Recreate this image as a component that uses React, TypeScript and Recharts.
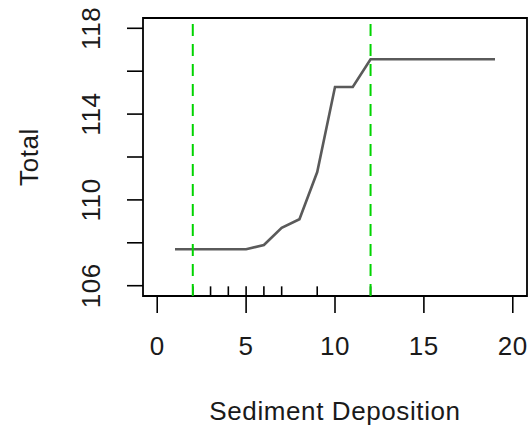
import React from 'react';
import { LineChart, Line, XAxis, YAxis, ReferenceLine, ReferenceArea } from 'recharts';

const sediment = [1, 2, 3, 4, 5, 6, 7, 8, 9, 10, 11, 12, 13, 14, 15, 16, 17, 18, 19];
const totals = [107.7, 107.7, 107.7, 107.7, 107.7, 107.9, 108.7, 109.1, 111.3, 115.26, 115.26, 116.56, 116.56, 116.56, 116.56, 116.56, 116.56, 116.56, 116.56];
const xTicks = [0, 5, 10, 15, 20];
const yTicks = [106, 108, 110, 112, 114, 116, 118];
const yLabelled = [106, 110, 114, 118];
const rugValues = [2, 3, 4, 5, 6, 7, 9, 12];
const cutoffs = [2, 12];

const X_DOMAIN: [number, number] = [-0.8, 20.8];
const Y_DOMAIN: [number, number] = [105.52, 118.48];
const RUG_TOP = 105.97;

const data = sediment.map((s, i) => ({ x: s, total: totals[i] }));

const FONT = '"Liberation Sans", Arial, sans-serif';
const TXT = '#1a1a1a';
const FS = 26;
const LS = 0.6;

const XTick = (props: any) => {
  const { x, y, payload } = props;
  return (
    <text x={x} y={y + 42} textAnchor="middle" fontFamily={FONT} fontSize={FS} letterSpacing={LS} fill={TXT}>
      {payload.value}
    </text>
  );
};

const YTick = (props: any) => {
  const { x, y, payload } = props;
  if (!yLabelled.includes(payload.value)) return null;
  const tx = x - 27;
  return (
    <text x={tx} y={y} transform={`rotate(-90 ${tx} ${y})`} textAnchor="middle" fontFamily={FONT} fontSize={FS} letterSpacing={LS} fill={TXT}>
      {payload.value}
    </text>
  );
};

export default function App() {
  return (
    <div style={{ position: 'absolute', left: 0, top: 0, background: '#fff' }}>
      <LineChart width={529} height={427} data={data} margin={{ top: 18, right: 2, bottom: 101, left: 83 }}>
        <XAxis
          dataKey="x"
          type="number"
          domain={X_DOMAIN}
          ticks={xTicks}
          allowDataOverflow
          axisLine={false}
          tickSize={17}
          tickMargin={0}
          tickLine={{ stroke: '#000', strokeWidth: 1.6 }}
          tick={<XTick />}
          height={30}
          label={{
            content: (p: any) => {
              const vb = p.viewBox;
              return (
                <text x={vb.x + vb.width / 2} y={vb.y + 124} textAnchor="middle" fontFamily={FONT} fontSize={FS} letterSpacing={LS} fill={TXT}>
                  Sediment Deposition
                </text>
              );
            },
          }}
        />
        <YAxis
          type="number"
          domain={Y_DOMAIN}
          ticks={yTicks}
          allowDataOverflow
          axisLine={false}
          tickSize={16}
          tickMargin={0}
          tickLine={{ stroke: '#000', strokeWidth: 1.6 }}
          tick={<YTick />}
          width={60}
          label={{
            content: (p: any) => {
              const vb = p.viewBox;
              const cx = 38;
              const cy = vb.y + vb.height / 2;
              return (
                <text x={cx} y={cy} transform={`rotate(-90 ${cx} ${cy})`} textAnchor="middle" fontFamily={FONT} fontSize={FS} letterSpacing={LS} fill={TXT}>
                  Total
                </text>
              );
            },
          }}
        />
        <ReferenceArea x1={X_DOMAIN[0]} x2={X_DOMAIN[1]} y1={Y_DOMAIN[0]} y2={Y_DOMAIN[1]} fill="none" stroke="#000" strokeWidth={1.8} ifOverflow="visible" />
        {rugValues.map((r) => (
          <ReferenceLine
            key={'rug' + r}
            segment={[{ x: r, y: Y_DOMAIN[0] }, { x: r, y: RUG_TOP }]}
            stroke="#000"
            strokeWidth={1.6}
          />
        ))}
        <Line type="linear" dataKey="total" stroke="#5a5a5a" strokeWidth={2.6} dot={false} isAnimationActive={false} />
        {cutoffs.map((c) => (
          <ReferenceLine key={'cut' + c} x={c} stroke="#00d400" strokeWidth={2} strokeDasharray="12 8" />
        ))}
      </LineChart>
    </div>
  );
}
